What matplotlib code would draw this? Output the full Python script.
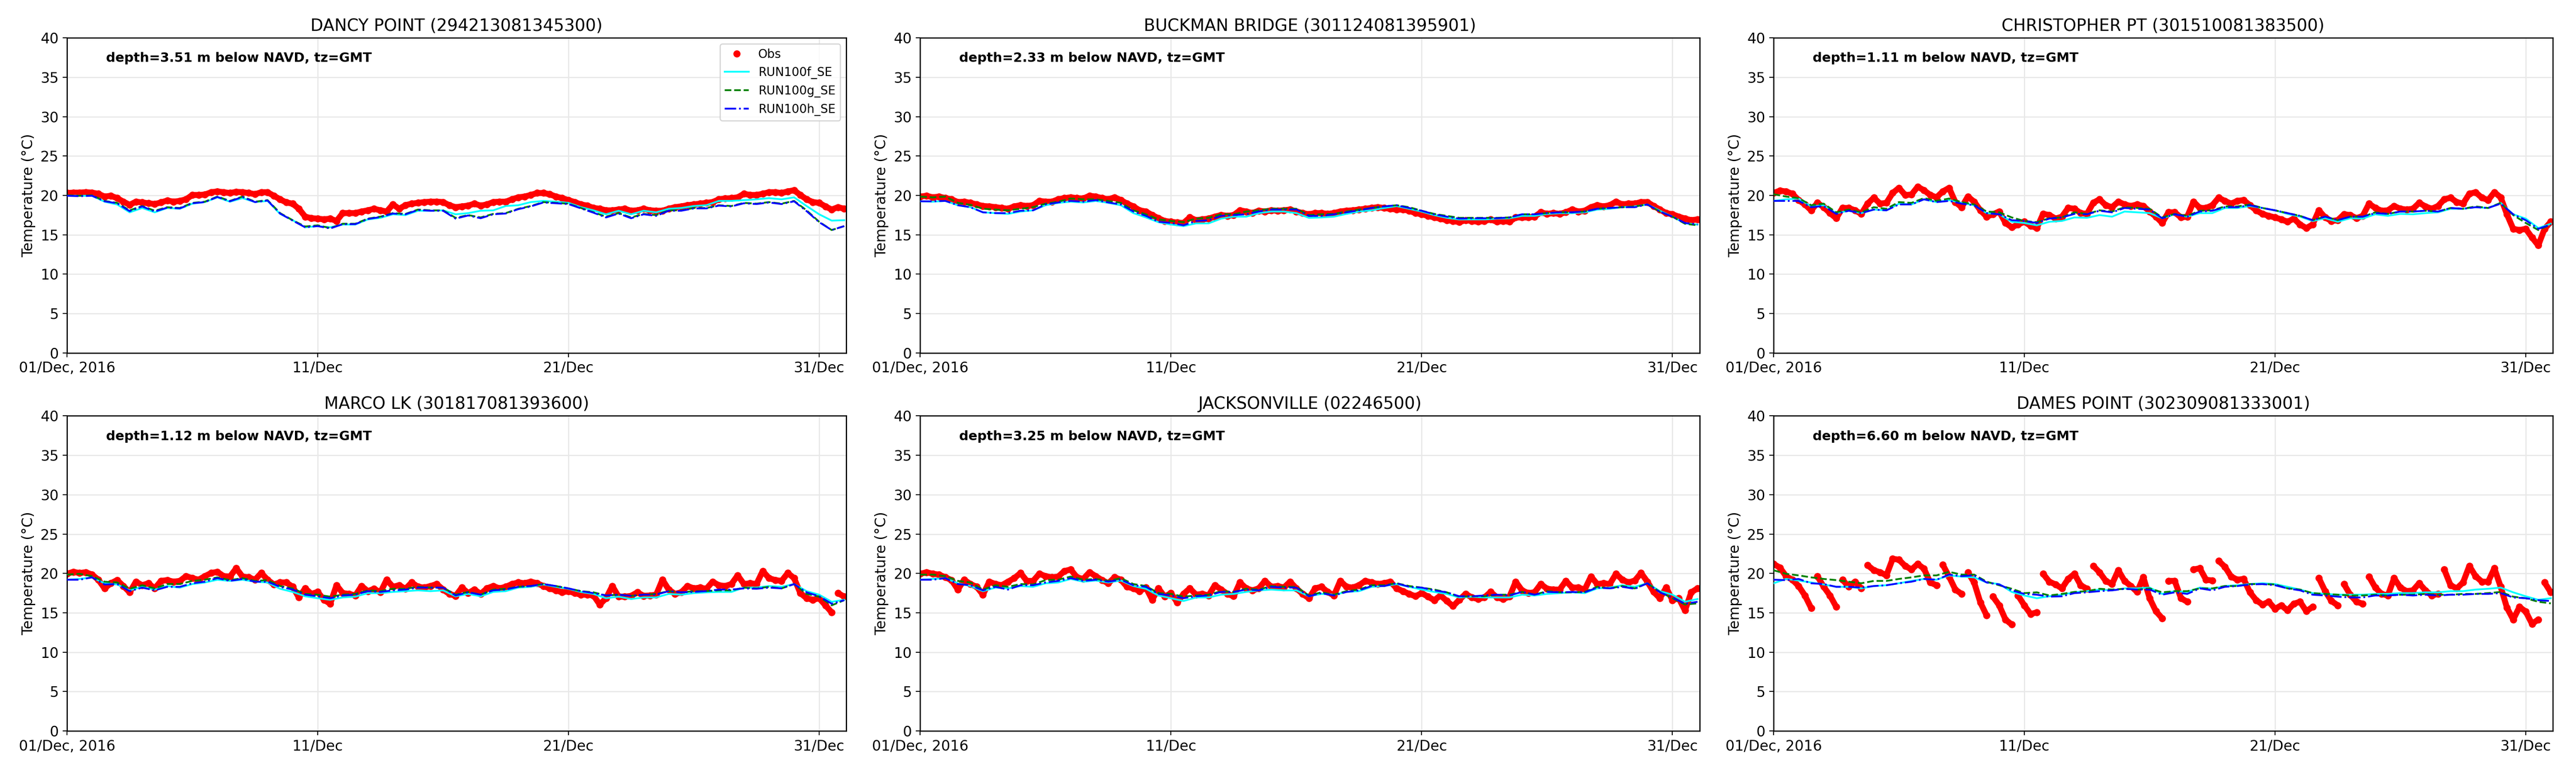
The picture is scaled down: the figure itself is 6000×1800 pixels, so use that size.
import numpy as np
import matplotlib
matplotlib.use("Agg")
import matplotlib.pyplot as plt
import matplotlib.dates as mdates
from datetime import datetime

plt.rcParams['font.family'] = ['DejaVu Sans']

# ---------------- data ----------------
start_date = datetime(2016, 12, 1)
obs_step_days = 0.25
model_step_days = 0.5
xlim_days = 31.08
rise_gap_threshold = 2.4   # quick rises show as gaps between dot chains

tick_days = [0, 10, 20, 30]
tick_labels = ['01/Dec, 2016', '11/Dec', '21/Dec', '31/Dec']

titles = ['DANCY POINT (294213081345300)', 'BUCKMAN BRIDGE (301124081395901)',
          'CHRISTOPHER PT (301510081383500)', 'MARCO LK (301817081393600)',
          'JACKSONVILLE (02246500)', 'DAMES POINT (302309081333001)']
depths = ['3.51', '2.33', '1.11', '1.12', '3.25', '6.60']
series_names = ['Obs', 'RUN100f_SE', 'RUN100g_SE', 'RUN100h_SE']

# DANCY POINT
obs_dancy = [20.3, 20.35, 20.35, 20.4, 20.35, 20.2, 19.85, 19.95, 19.65, 19.2,
             18.8, 19.2, 19.1, 19.0, 18.9, 19.1, 19.35, 19.2, 19.3, 19.5,
             20.05, 20.05, 20.1, 20.4, 20.5, 20.4, 20.3, 20.45, 20.4, 20.3,
             20.15, 20.4, 20.4, 19.95, 19.5, 19.1, 18.95, 18.3, 17.3, 17.1,
             17.05, 16.95, 17.05, 16.75, 17.75, 17.75, 17.75, 17.95, 18.1, 18.3,
             18.1, 17.95, 18.85, 18.3, 18.75, 18.95, 19.05, 19.15, 19.2, 19.2,
             19.15, 18.75, 18.5, 18.6, 18.7, 18.95, 18.7, 18.85, 19.15, 19.2,
             19.2, 19.5, 19.75, 19.85, 20.05, 20.3, 20.3, 20.15, 19.85, 19.65,
             19.4, 19.15, 18.85, 18.7, 18.4, 18.3, 18.1, 18.1, 18.2, 18.3,
             18.05, 18.1, 18.3, 18.1, 18.05, 18.05, 18.3, 18.5, 18.6, 18.75,
             18.85, 18.95, 19.05, 19.15, 19.5, 19.6, 19.65, 19.75, 20.2, 20.05,
             20.05, 20.2, 20.4, 20.4, 20.3, 20.5, 20.65, 20.05, 19.5, 19.15,
             19.05, 18.6, 18.2, 18.5, 18.3]
f_dancy = [19.95, 19.95, 19.95, 19.2, 18.85, 17.85, 18.4, 17.85, 18.4, 18.3,
           18.95, 19.15, 19.75, 19.2, 19.65, 19.15, 19.3, 17.65, 16.85, 15.95,
           16.1, 15.95, 16.3, 16.3, 16.95, 17.15, 17.6, 17.5, 18.05, 18.05,
           18.1, 17.6, 17.75, 18.05, 18.1, 18.65, 18.75, 19.15, 19.3, 19.2,
           19.05, 18.5, 18.1, 17.6, 18.05, 17.6, 18.05, 17.85, 18.3, 18.4,
           18.65, 18.75, 19.3, 19.3, 19.4, 19.5, 19.65, 19.5, 19.75, 18.65,
           17.6, 16.8, 16.85]
g_dancy = [20.0, 19.95, 20.0, 19.3, 19.05, 18.1, 18.65, 18.05, 18.5, 18.4,
           19.05, 19.2, 19.85, 19.3, 19.85, 19.2, 19.4, 17.75, 16.85, 16.05,
           16.2, 15.85, 16.4, 16.4, 17.05, 17.3, 17.75, 17.65, 18.2, 18.1,
           18.1, 17.15, 17.5, 17.2, 17.65, 17.75, 18.3, 18.65, 19.15, 19.05,
           18.95, 18.4, 17.85, 17.3, 17.75, 17.2, 17.65, 17.5, 18.1, 18.1,
           18.4, 18.4, 18.75, 18.65, 19.05, 18.95, 19.15, 18.95, 19.3, 18.1,
           16.65, 15.6, 16.1]
h_dancy = [19.95, 19.9, 19.95, 19.25, 19.0, 18.0, 18.6, 17.95, 18.45, 18.35,
           19.0, 19.15, 19.8, 19.25, 19.8, 19.15, 19.35, 17.7, 16.8, 15.95,
           16.1, 15.8, 16.35, 16.35, 17.0, 17.25, 17.7, 17.6, 18.15, 18.05,
           18.05, 17.05, 17.45, 17.1, 17.6, 17.7, 18.25, 18.6, 19.1, 19.0,
           18.9, 18.35, 17.8, 17.2, 17.7, 17.1, 17.6, 17.4, 18.05, 18.05,
           18.35, 18.35, 18.7, 18.6, 19.0, 18.9, 19.1, 18.9, 19.25, 18.0,
           16.6, 15.6, 16.1]

# BUCKMAN BRIDGE
obs_buckman = [19.85, 19.95, 19.75, 19.85, 19.65, 19.5, 19.15, 19.2, 19.05, 18.85,
               18.65, 18.6, 18.5, 18.4, 18.3, 18.6, 18.75, 18.65, 18.75, 19.3,
               19.2, 19.2, 19.5, 19.65, 19.75, 19.65, 19.6, 19.95, 19.85, 19.65,
               19.5, 19.75, 19.4, 18.95, 18.6, 18.1, 17.95, 17.5, 17.1, 16.75,
               16.65, 16.55, 16.5, 17.2, 16.85, 16.95, 17.05, 17.3, 17.5, 17.4,
               17.5, 18.1, 17.95, 17.75, 18.05, 17.95, 18.1, 18.05, 18.1, 18.2,
               17.95, 17.75, 17.6, 17.75, 17.75, 17.65, 17.75, 17.95, 18.05, 18.1,
               18.2, 18.3, 18.4, 18.5, 18.4, 18.3, 18.2, 18.2, 18.05, 17.75,
               17.6, 17.4, 17.2, 17.05, 16.85, 16.75, 16.6, 16.85, 16.75, 16.65,
               16.75, 16.95, 16.65, 16.75, 16.65, 17.2, 17.2, 17.2, 17.3, 17.85,
               17.65, 17.75, 17.65, 17.85, 18.2, 17.95, 18.05, 18.5, 18.75, 18.6,
               18.75, 19.2, 18.85, 18.95, 18.95, 19.15, 19.15, 18.65, 18.2, 17.75,
               17.6, 17.3, 17.05, 16.85, 16.95]
f_buckman = [19.25, 19.2, 19.3, 18.75, 18.5, 17.85, 17.75, 17.65, 17.95, 18.1,
             18.75, 19.05, 19.2, 19.1, 19.3, 19.05, 18.75, 17.75, 17.2, 16.6,
             16.3, 16.1, 16.45, 16.45, 17.05, 17.3, 17.3, 17.75, 17.95, 17.95,
             17.75, 17.15, 17.2, 17.3, 17.65, 17.95, 18.1, 18.4, 18.65, 18.3,
             17.95, 17.5, 17.15, 16.95, 16.95, 16.95, 17.05, 17.1, 17.4, 17.4,
             17.65, 17.75, 17.75, 17.85, 18.2, 18.3, 18.5, 18.6, 18.85, 18.05,
             17.3, 16.45, 16.3]
g_buckman = [19.85, 19.75, 19.85, 19.05, 18.8, 18.3, 18.2, 18.1, 18.3, 18.5,
             18.95, 19.2, 19.6, 19.5, 19.5, 19.3, 19.05, 18.1, 17.6, 16.95,
             16.75, 16.6, 17.05, 17.15, 17.6, 17.6, 17.95, 18.1, 18.3, 18.3,
             18.3, 17.5, 17.6, 17.65, 17.95, 18.2, 18.4, 18.6, 18.75, 18.5,
             18.05, 17.65, 17.4, 17.15, 17.15, 17.15, 17.15, 17.2, 17.6, 17.6,
             17.75, 17.85, 17.85, 17.95, 18.3, 18.4, 18.5, 18.6, 18.85, 17.95,
             17.3, 16.4, 16.2]
h_buckman = [19.25, 19.25, 19.3, 18.75, 18.5, 17.85, 17.75, 17.75, 18.05, 18.1,
             18.85, 19.1, 19.3, 19.2, 19.4, 19.1, 18.85, 17.95, 17.4, 16.65,
             16.5, 16.2, 16.75, 16.85, 17.4, 17.5, 17.6, 17.95, 18.2, 18.2,
             18.2, 17.4, 17.4, 17.6, 17.85, 18.1, 18.4, 18.6, 18.75, 18.4,
             18.05, 17.6, 17.3, 17.05, 17.1, 17.1, 17.1, 17.2, 17.6, 17.6,
             17.75, 17.85, 17.85, 17.95, 18.3, 18.4, 18.5, 18.5, 18.85, 17.95,
             17.3, 16.5, 16.3]

# CHRISTOPHER PT
obs_christopher = [20.3, 20.6, 20.5, 20.2, 19.4, 18.85, 18.1, 19.05, 18.5, 17.75,
                   17.1, 18.4, 18.4, 18.1, 17.65, 18.95, 19.7, 18.95, 19.05, 20.3,
                   20.95, 20.05, 20.1, 21.1, 20.65, 20.05, 19.75, 20.5, 20.95, 19.15,
                   18.5, 19.85, 19.2, 18.1, 17.3, 17.6, 17.95, 16.5, 15.95, 16.3,
                   16.65, 16.15, 15.85, 17.65, 17.5, 17.05, 17.3, 18.4, 18.3, 17.75,
                   17.65, 19.05, 19.5, 18.75, 18.5, 19.2, 18.85, 18.65, 18.85, 18.65,
                   17.95, 17.3, 16.5, 17.85, 17.85, 17.2, 17.3, 19.2, 18.4, 18.4,
                   18.75, 19.7, 19.3, 18.95, 19.3, 19.4, 18.75, 18.1, 17.65, 17.4,
                   17.2, 16.95, 16.65, 17.05, 16.3, 15.85, 16.3, 18.1, 17.2, 16.75,
                   16.85, 17.6, 17.5, 17.1, 17.4, 18.95, 18.4, 18.05, 18.1, 18.65,
                   18.3, 18.2, 18.3, 19.05, 18.6, 18.3, 18.65, 19.5, 19.7, 19.15,
                   18.95, 20.2, 20.4, 19.7, 19.4, 20.4, 19.75, 17.6, 15.75, 15.6,
                   15.75, 14.65, 13.65, 15.75, 16.65]
f_christopher = [19.3, 19.5, 19.6, 18.6, 18.75, 17.75, 18.05, 17.75, 18.2, 18.1,
                 18.95, 18.85, 19.5, 19.15, 19.4, 19.05, 18.75, 17.75, 17.6, 16.65,
                 16.5, 16.2, 16.65, 16.75, 17.2, 17.15, 17.5, 17.3, 17.95, 17.85,
                 17.75, 17.1, 17.6, 17.3, 17.75, 17.75, 18.4, 18.4, 18.65, 18.4,
                 18.1, 17.65, 17.3, 16.75, 17.1, 16.65, 17.1, 17.05, 17.6, 17.4,
                 17.65, 17.6, 17.75, 17.85, 18.3, 18.3, 18.5, 18.4, 19.05, 17.6,
                 17.05, 15.85, 16.4]
g_christopher = [20.15, 19.85, 19.65, 18.75, 18.95, 17.85, 18.2, 17.85, 18.5, 18.3,
                 19.15, 19.05, 19.65, 19.3, 19.6, 19.15, 18.85, 17.95, 17.85, 17.2,
                 16.75, 16.6, 17.1, 17.2, 17.85, 17.65, 18.1, 17.95, 18.5, 18.4,
                 18.3, 17.2, 17.65, 17.4, 18.05, 18.1, 18.6, 18.6, 18.85, 18.4,
                 18.1, 17.75, 17.4, 16.85, 17.3, 16.85, 17.3, 17.3, 17.85, 17.65,
                 17.95, 17.95, 18.05, 17.95, 18.4, 18.3, 18.6, 18.4, 19.05, 17.5,
                 16.5, 15.6, 16.3]
h_christopher = [19.3, 19.3, 19.3, 18.5, 18.65, 17.65, 18.05, 17.75, 18.2, 18.1,
                 18.85, 18.85, 19.5, 19.15, 19.3, 18.95, 18.75, 17.75, 17.6, 16.85,
                 16.75, 16.5, 17.05, 17.2, 17.65, 17.6, 18.05, 17.85, 18.4, 18.3,
                 18.2, 17.1, 17.6, 17.3, 17.95, 18.05, 18.5, 18.5, 18.75, 18.4,
                 18.1, 17.75, 17.4, 16.85, 17.3, 16.85, 17.3, 17.3, 17.75, 17.65,
                 17.95, 17.95, 18.05, 17.95, 18.4, 18.3, 18.5, 18.4, 18.95, 17.6,
                 16.85, 15.75, 16.3]

# MARCO LK
obs_marco = [19.95, 20.2, 20.05, 20.15, 19.85, 19.2, 18.1, 18.75, 19.15, 18.4,
             17.6, 18.95, 18.5, 18.75, 18.1, 19.05, 19.15, 18.95, 19.05, 19.65,
             19.4, 19.2, 19.65, 20.05, 20.2, 19.65, 19.6, 20.65, 19.6, 19.5,
             19.2, 20.05, 19.2, 18.6, 18.85, 18.85, 18.3, 16.95, 18.1, 17.4,
             17.65, 16.65, 16.15, 18.5, 17.5, 17.4, 17.2, 18.4, 17.75, 18.05,
             17.6, 19.2, 18.3, 18.5, 18.05, 18.85, 18.3, 18.2, 18.4, 18.65,
             17.95, 17.4, 17.15, 18.2, 17.5, 17.95, 17.4, 18.1, 18.4, 18.1,
             18.3, 18.65, 18.85, 18.75, 18.95, 18.75, 18.4, 18.1, 17.85, 17.6,
             17.75, 17.5, 17.3, 17.3, 17.2, 16.05, 16.85, 18.4, 17.05, 17.05,
             17.15, 17.6, 17.15, 17.2, 17.3, 19.2, 17.95, 17.4, 17.6, 18.4,
             18.1, 18.2, 18.05, 18.95, 18.5, 18.4, 18.65, 19.75, 18.65, 18.75,
             18.65, 20.3, 19.4, 19.15, 19.05, 20.05, 19.4, 17.5, 16.85, 16.65,
             16.85, 15.95, 15.05, 17.5, 17.05]
f_marco = [19.2, 19.3, 19.5, 18.75, 18.6, 17.85, 18.3, 17.95, 18.4, 18.2,
           18.65, 18.85, 19.2, 19.05, 19.2, 18.95, 18.85, 18.05, 17.65, 17.1,
           16.85, 16.65, 16.95, 17.05, 17.5, 17.5, 17.65, 17.75, 17.85, 17.75,
           17.85, 17.1, 17.4, 17.1, 17.65, 17.75, 18.2, 18.3, 18.6, 18.3,
           18.05, 17.65, 17.4, 16.85, 17.05, 16.75, 16.95, 16.95, 17.4, 17.3,
           17.5, 17.6, 17.65, 17.65, 18.2, 18.2, 18.4, 18.3, 18.65, 17.75,
           17.3, 16.4, 16.65]
g_marco = [19.85, 19.95, 19.65, 18.95, 18.85, 18.05, 18.5, 18.1, 18.65, 18.65,
           19.05, 19.2, 19.5, 19.15, 19.4, 19.05, 19.15, 18.4, 18.1, 17.4,
           17.3, 17.05, 17.3, 17.4, 17.85, 17.75, 18.05, 18.05, 18.3, 18.2,
           18.2, 17.3, 17.65, 17.3, 17.95, 18.05, 18.3, 18.4, 18.65, 18.4,
           18.1, 17.75, 17.6, 17.2, 17.3, 17.15, 17.3, 17.4, 17.75, 17.6,
           17.75, 17.75, 17.85, 17.85, 18.2, 18.1, 18.3, 18.1, 18.65, 17.4,
           17.05, 15.95, 16.6]
h_marco = [19.2, 19.2, 19.5, 18.6, 18.65, 17.75, 18.2, 17.85, 18.3, 18.3,
           18.75, 18.95, 19.4, 19.05, 19.3, 18.95, 18.95, 18.3, 17.95, 17.3,
           17.1, 16.85, 17.2, 17.3, 17.75, 17.65, 17.85, 17.95, 18.2, 18.2,
           18.2, 17.2, 17.6, 17.3, 17.85, 17.95, 18.3, 18.4, 18.65, 18.4,
           18.1, 17.75, 17.5, 17.2, 17.3, 17.15, 17.3, 17.3, 17.75, 17.6,
           17.65, 17.75, 17.95, 17.95, 18.1, 18.05, 18.2, 18.1, 18.65, 17.6,
           17.1, 16.15, 16.6]

# JACKSONVILLE
obs_jax = [19.95, 20.15, 19.95, 19.85, 19.5, 19.15, 17.95, 19.2, 18.65, 18.3,
           17.3, 18.95, 18.65, 18.5, 18.95, 19.4, 20.05, 19.05, 19.05, 19.95,
           19.65, 19.5, 19.6, 20.3, 20.5, 19.5, 19.3, 20.15, 19.65, 19.15,
           18.75, 19.5, 19.2, 18.3, 18.1, 17.75, 18.2, 16.65, 18.1, 17.05,
           17.5, 16.3, 17.4, 18.1, 17.3, 17.4, 17.2, 18.5, 17.95, 17.4,
           17.1, 18.85, 18.1, 17.85, 18.1, 19.05, 18.3, 18.4, 18.2, 18.95,
           18.1, 17.4, 16.85, 18.1, 18.3, 17.65, 17.2, 19.05, 18.3, 18.2,
           18.5, 19.05, 18.85, 18.65, 18.75, 18.95, 18.1, 17.75, 17.4, 17.1,
           17.5, 17.05, 16.6, 17.2, 16.5, 15.85, 16.65, 17.4, 16.95, 16.75,
           16.95, 17.65, 16.95, 16.75, 17.05, 18.95, 17.85, 17.5, 17.6, 18.65,
           18.05, 17.95, 17.95, 19.05, 18.2, 18.2, 17.95, 19.6, 18.65, 18.75,
           18.65, 19.95, 19.2, 18.85, 19.1, 20.05, 18.95, 17.65, 16.85, 18.2,
           16.6, 16.85, 15.3, 17.6, 18.1]
f_jax = [19.2, 19.3, 19.4, 18.75, 18.4, 17.75, 18.2, 18.1, 18.4, 18.3,
         18.75, 18.85, 19.3, 18.95, 19.1, 18.85, 19.1, 18.4, 18.05, 17.2,
         16.85, 16.5, 16.95, 16.95, 17.3, 17.4, 17.65, 17.85, 17.95, 17.85,
         17.85, 17.1, 17.4, 17.3, 17.65, 17.75, 18.3, 18.4, 18.65, 18.3,
         17.95, 17.65, 17.4, 16.95, 17.05, 16.95, 16.95, 16.95, 17.3, 17.2,
         17.4, 17.5, 17.6, 17.5, 18.1, 18.2, 18.5, 18.3, 18.75, 17.75,
         17.3, 16.4, 16.75]
g_jax = [19.85, 19.85, 19.65, 19.05, 18.85, 17.95, 18.5, 18.3, 18.65, 18.6,
         19.15, 19.2, 19.6, 19.2, 19.3, 19.05, 19.4, 18.65, 18.4, 17.5,
         17.4, 17.05, 17.2, 17.3, 17.75, 17.65, 18.05, 17.95, 18.4, 18.3,
         18.3, 17.2, 17.6, 17.3, 17.75, 17.95, 18.5, 18.5, 18.75, 18.4,
         18.2, 17.95, 17.6, 17.05, 17.1, 17.1, 17.3, 17.3, 17.65, 17.3,
         17.75, 17.6, 17.6, 17.65, 18.3, 18.1, 18.4, 18.1, 18.75, 17.65,
         16.85, 16.05, 16.2]
h_jax = [19.2, 19.2, 19.4, 18.65, 18.5, 17.85, 18.3, 17.95, 18.5, 18.5,
         18.85, 19.05, 19.4, 19.05, 19.2, 18.95, 19.2, 18.5, 18.3, 17.4,
         17.2, 16.85, 17.1, 17.2, 17.65, 17.65, 17.95, 17.85, 18.3, 18.2,
         18.2, 17.1, 17.5, 17.2, 17.65, 17.85, 18.4, 18.4, 18.75, 18.3,
         18.2, 17.85, 17.6, 17.1, 17.1, 17.2, 17.3, 17.2, 17.65, 17.3,
         17.65, 17.6, 17.65, 17.6, 18.2, 18.1, 18.3, 18.05, 18.75, 17.6,
         16.95, 16.15, 16.4]

# DAMES POINT
obs_dames = [21.2, 20.75, 19.65, 19.2, 18.4, 17.2, 15.6, 19.65, 18.3, 17.2,
             15.75, 19.2, 18.3, 18.95, 18.1, 21.05, 20.4, 20.15, 19.75, 21.85,
             21.75, 20.95, 20.5, 21.2, 20.6, 18.85, 18.5, 21.1, 19.6, 17.95,
             17.4, 20.15, 18.85, 16.3, 14.65, 17.05, 15.95, 14.15, 13.5, 17.2,
             15.95, 14.85, 15.05, 19.95, 18.95, 18.6, 18.1, 19.3, 19.95, 18.5,
             18.05, 20.95, 20.15, 19.05, 18.65, 20.4, 19.05, 18.4, 17.65, 19.5,
             16.85, 15.2, 14.3, 19.05, 19.05, 16.85, 16.4, 20.5, 20.65, 19.2,
             19.1, 21.6, 20.85, 19.6, 19.2, 19.3, 17.6, 16.6, 16.05, 16.4,
             15.5, 15.95, 15.3, 16.15, 16.4, 15.2, 15.75, 19.4, 17.75, 16.5,
             15.95, 18.65, 17.3, 16.4, 16.15, 19.6, 18.2, 17.4, 17.2, 19.4,
             18.2, 17.75, 17.85, 18.75, 17.85, 17.2, 17.4, 20.5, 18.5, 18.1,
             18.85, 20.95, 19.65, 18.95, 18.95, 20.65, 18.3, 15.65, 14.15, 15.75,
             15.15, 13.6, 14.15, 18.85, 17.6]
f_dames = [18.75, 19.3, 19.1, 18.85, 18.6, 18.3, 18.3, 18.1, 18.4, 18.5,
           18.75, 19.05, 19.3, 19.2, 19.75, 19.6, 19.5, 18.85, 18.65, 17.65,
           17.2, 16.85, 17.1, 17.3, 17.6, 17.75, 17.95, 17.85, 18.1, 18.1,
           18.2, 17.4, 17.75, 17.65, 18.2, 18.05, 18.4, 18.5, 18.65, 18.75,
           18.65, 18.3, 17.95, 17.5, 17.4, 17.3, 17.3, 17.3, 17.4, 17.4,
           17.5, 17.5, 17.6, 17.6, 17.75, 17.75, 17.95, 18.05, 18.2, 17.6,
           17.1, 16.65, 16.85]
g_dames = [20.4, 19.95, 19.75, 19.5, 19.3, 19.15, 18.95, 18.75, 19.05, 19.05,
           19.3, 19.5, 19.75, 19.75, 20.2, 19.85, 19.85, 18.95, 18.5, 18.05,
           17.5, 17.6, 17.2, 17.4, 17.65, 17.75, 18.05, 17.95, 18.05, 17.95,
           18.1, 17.6, 17.75, 17.75, 18.1, 18.1, 18.4, 18.4, 18.65, 18.65,
           18.6, 18.1, 17.95, 17.5, 17.4, 17.3, 17.2, 17.2, 17.3, 17.2,
           17.3, 17.3, 17.4, 17.3, 17.3, 17.4, 17.4, 17.5, 17.65, 17.05,
           16.85, 16.4, 16.2]
h_dames = [19.2, 19.15, 19.3, 18.75, 18.65, 18.3, 18.3, 18.2, 18.4, 18.5,
           18.75, 18.95, 19.3, 19.2, 19.85, 19.65, 19.75, 18.85, 18.6, 17.85,
           17.4, 17.3, 17.05, 17.1, 17.5, 17.6, 17.75, 17.85, 18.05, 17.95,
           17.95, 17.3, 17.6, 17.4, 18.1, 17.85, 18.3, 18.4, 18.6, 18.65,
           18.5, 18.1, 17.85, 17.3, 17.2, 17.05, 16.95, 16.95, 17.2, 17.2,
           17.3, 17.2, 17.3, 17.2, 17.3, 17.3, 17.4, 17.4, 17.5, 16.95,
           16.85, 16.6, 16.5]

stations = [
    (obs_dancy, f_dancy, g_dancy, h_dancy),
    (obs_buckman, f_buckman, g_buckman, h_buckman),
    (obs_christopher, f_christopher, g_christopher, h_christopher),
    (obs_marco, f_marco, g_marco, h_marco),
    (obs_jax, f_jax, g_jax, h_jax),
    (obs_dames, f_dames, g_dames, h_dames),
]

# ---------------- plotting ----------------
base = mdates.date2num(start_date)

fig, axes = plt.subplots(2, 3, figsize=(30, 9), dpi=200)
fig.subplots_adjust(left=0.026, right=0.991, bottom=0.0544, top=0.951,
                    wspace=0.095, hspace=0.2)

for i, ax in enumerate(axes.flat):
    obs, f, g, h = stations[i]
    obs_arr = np.asarray(obs, dtype=float)
    t_obs = base + np.arange(len(obs_arr)) * obs_step_days
    t_mod = base + np.arange(len(f)) * model_step_days

    # connecting band for the dense obs trace, broken where the record jumps up quickly
    breaks = np.where(np.diff(obs_arr) > rise_gap_threshold)[0] + 1
    t_band = np.insert(t_obs, breaks, np.nan)
    y_band = np.insert(obs_arr, breaks, np.nan)
    ax.plot(t_band, y_band, '-', color='red', lw=5.0, solid_capstyle='round',
            solid_joinstyle='round', zorder=2)
    ax.plot(t_obs, obs_arr, 'o', color='red', ms=6, mew=0, label=series_names[0], zorder=2)
    ax.plot(t_mod, f, '-', color='cyan', lw=1.5, label=series_names[1], zorder=3)
    ax.plot(t_mod, g, '--', color='green', lw=1.5, label=series_names[2], zorder=3)
    ax.plot(t_mod, h, '-.', color='blue', lw=1.5, label=series_names[3], zorder=3)

    ax.set_xlim(base, base + xlim_days)
    ax.set_ylim(0, 40)
    ax.set_yticks(np.arange(0, 41, 5))
    ax.set_xticks([base + d for d in tick_days])
    ax.set_xticklabels(tick_labels)
    ax.tick_params(labelsize=12)
    ax.grid(True, color='#e8e8e8', lw=1.0, zorder=0)
    ax.set_axisbelow(True)
    for sp in ax.spines.values():
        sp.set_linewidth(1.0)
    ax.set_title(titles[i], fontsize=14)
    ax.set_ylabel('Temperature (°C)', fontsize=12)
    ax.text(0.05, 0.935, 'depth=%s m below NAVD, tz=GMT' % depths[i],
            transform=ax.transAxes, fontsize=11, fontweight='bold',
            ha='left', va='center')
    if i == 0:
        handles, labels = ax.get_legend_handles_labels()
        ax.legend(handles, labels, loc='upper right', fontsize=10)

fig.savefig('out.png', dpi=200)
